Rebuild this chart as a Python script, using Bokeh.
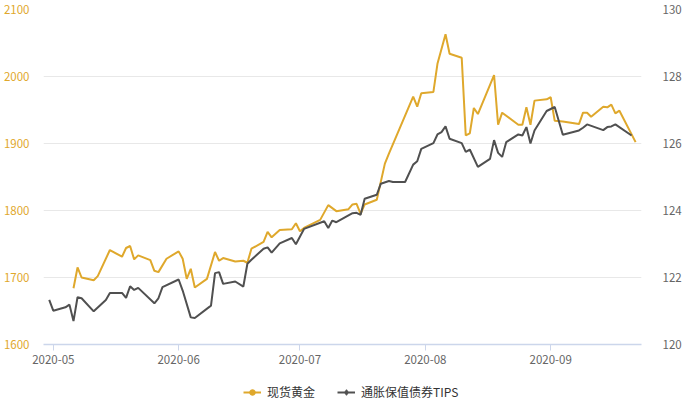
import pandas as pd
from bokeh.plotting import figure
from bokeh.layouts import column
from bokeh.models import (Range1d, LinearAxis, DatetimeAxis, MonthsTicker, DatetimeTickFormatter,
                          FixedTicker, Legend, LegendItem, ColumnDataSource)
from bokeh.embed import file_html
from bokeh.resources import INLINE

gold_dates = ["2020-05-06","2020-05-07","2020-05-08","2020-05-11","2020-05-12","2020-05-15","2020-05-18",
              "2020-05-19","2020-05-20","2020-05-21","2020-05-22","2020-05-25","2020-05-26","2020-05-27",
              "2020-05-29","2020-06-01","2020-06-02","2020-06-03","2020-06-04","2020-06-05","2020-06-08",
              "2020-06-10","2020-06-11","2020-06-12","2020-06-15","2020-06-17","2020-06-18","2020-06-19",
              "2020-06-22","2020-06-23","2020-06-24","2020-06-26","2020-06-29","2020-06-30","2020-07-01",
              "2020-07-02","2020-07-06","2020-07-08","2020-07-10","2020-07-13","2020-07-14","2020-07-15",
              "2020-07-16","2020-07-17","2020-07-20","2020-07-22","2020-07-23","2020-07-29","2020-07-30",
              "2020-07-31","2020-08-03","2020-08-04","2020-08-06","2020-08-07","2020-08-10","2020-08-11",
              "2020-08-12","2020-08-13","2020-08-14","2020-08-18","2020-08-19","2020-08-20","2020-08-24",
              "2020-08-25","2020-08-26","2020-08-27","2020-08-28","2020-08-31","2020-09-01","2020-09-02",
              "2020-09-04","2020-09-08","2020-09-09","2020-09-10","2020-09-11","2020-09-14","2020-09-15",
              "2020-09-16","2020-09-17","2020-09-18","2020-09-22"]
gold_values = [1684, 1715, 1700, 1696, 1702, 1741, 1731,
               1744, 1747, 1727, 1733, 1726, 1710, 1708,
               1728, 1739, 1728, 1698, 1713, 1685, 1698,
               1738, 1725, 1729, 1724, 1725, 1722, 1743,
               1753, 1768, 1760, 1771, 1772, 1781, 1769,
               1774, 1786, 1808, 1799, 1802, 1809, 1810,
               1795, 1809, 1816, 1870, 1885, 1970, 1955,
               1975, 1977, 2019, 2063, 2034, 2028, 1912,
               1915, 1953, 1944, 2002, 1928, 1946, 1928,
               1928, 1954, 1928, 1964, 1966, 1969, 1934,
               1933, 1929, 1946, 1946, 1940, 1955, 1954,
               1958, 1945, 1949, 1902]

tips_dates = ["2020-04-30","2020-05-01","2020-05-04","2020-05-05","2020-05-06","2020-05-07","2020-05-08",
              "2020-05-11","2020-05-14","2020-05-15","2020-05-18","2020-05-19","2020-05-20","2020-05-21",
              "2020-05-22","2020-05-26","2020-05-27","2020-05-28","2020-06-01","2020-06-02","2020-06-04",
              "2020-06-05","2020-06-09","2020-06-10","2020-06-11","2020-06-12","2020-06-15","2020-06-17",
              "2020-06-18","2020-06-19","2020-06-22","2020-06-23","2020-06-24","2020-06-26","2020-06-29",
              "2020-06-30","2020-07-02","2020-07-07","2020-07-08","2020-07-09","2020-07-10","2020-07-14",
              "2020-07-15","2020-07-16","2020-07-17","2020-07-20","2020-07-21","2020-07-23","2020-07-24",
              "2020-07-27","2020-07-29","2020-07-30","2020-07-31","2020-08-03","2020-08-04","2020-08-05",
              "2020-08-06","2020-08-07","2020-08-10","2020-08-11","2020-08-12","2020-08-14","2020-08-17",
              "2020-08-18","2020-08-19","2020-08-20","2020-08-21","2020-08-24","2020-08-25","2020-08-26",
              "2020-08-27","2020-08-28","2020-08-31","2020-09-02","2020-09-04","2020-09-08","2020-09-09",
              "2020-09-10","2020-09-14","2020-09-15","2020-09-16","2020-09-17","2020-09-21"]
tips_values = [121.33, 121.01, 121.11, 121.19, 120.70, 121.41, 121.38,
               120.99, 121.33, 121.54, 121.54, 121.39, 121.74, 121.63,
               121.69, 121.23, 121.38, 121.71, 121.94, 121.61, 120.81,
               120.79, 121.16, 122.13, 122.16, 121.81, 121.88, 121.73,
               122.41, 122.53, 122.86, 122.90, 122.74, 123.02, 123.18,
               122.99, 123.45, 123.68, 123.48, 123.70, 123.65, 123.92,
               123.93, 123.87, 124.35, 124.47, 124.80, 124.88, 124.85,
               124.85, 125.37, 125.47, 125.84, 126.01, 126.27, 126.34,
               126.51, 126.14, 126.01, 125.75, 125.82, 125.30, 125.54,
               126.10, 125.72, 125.60, 126.04, 126.27, 126.24, 126.49,
               126.00, 126.39, 126.97, 127.09, 126.26, 126.39, 126.47,
               126.57, 126.40, 126.49, 126.51, 126.57, 126.24]

series_names = ["现货黄金", "通胀保值债券TIPS"]
left_ticks = [1600, 1700, 1800, 1900, 2000, 2100]
right_ticks = [120, 122, 124, 126, 128, 130]
x_start, x_end = "2020-04-28 14:00", "2020-09-23 11:00"

GOLD = "#dfa82c"
GRAY = "#505050"
FONT = "Noto Sans CJK SC"

gold_src = ColumnDataSource(dict(x=pd.to_datetime(gold_dates), y=gold_values))
tips_src = ColumnDataSource(dict(x=pd.to_datetime(tips_dates), y=tips_values))

p = figure(width=684, height=372, output_backend="svg", toolbar_location=None,
           x_axis_type=None, y_axis_location=None,
           x_range=Range1d(pd.Timestamp(x_start), pd.Timestamp(x_end)),
           y_range=Range1d(left_ticks[0], left_ticks[-1]),
           min_border_left=34, min_border_right=38, min_border_top=9, min_border_bottom=28)
p.extra_y_ranges = {"r": Range1d(right_ticks[0], right_ticks[-1])}
p.outline_line_color = None
p.background_fill_color = "white"

yl = LinearAxis(ticker=FixedTicker(ticks=left_ticks))
yl.axis_line_color = None
yl.major_tick_line_color = None
yl.minor_tick_line_color = None
yl.major_label_text_color = GOLD
yl.major_label_text_font = FONT
yl.major_label_text_font_size = "11.5px"
yl.major_label_standoff = 8
p.add_layout(yl, "left")

yr = LinearAxis(y_range_name="r", ticker=FixedTicker(ticks=right_ticks))
yr.axis_line_color = None
yr.major_tick_line_color = None
yr.minor_tick_line_color = None
yr.major_label_text_color = "#666666"
yr.major_label_text_font = FONT
yr.major_label_text_font_size = "11.5px"
yr.major_label_standoff = 15
p.add_layout(yr, "right")

xa = DatetimeAxis(ticker=MonthsTicker(months=list(range(1, 13))),
                  formatter=DatetimeTickFormatter(months="%Y-%m", days="%Y-%m"))
xa.axis_line_color = "#ccd6eb"
xa.axis_line_width = 1.5
xa.major_tick_line_color = "#ccd6eb"
xa.major_tick_out = 6
xa.major_tick_in = 0
xa.minor_tick_line_color = None
xa.major_label_text_color = "#666666"
xa.major_label_text_font = FONT
xa.major_label_text_font_size = "11.5px"
xa.major_label_standoff = 4
p.add_layout(xa, "below")

p.xgrid.visible = False
p.ygrid.ticker = FixedTicker(ticks=left_ticks)
p.ygrid.grid_line_color = "#e8e8e8"
p.ygrid.grid_line_width = 1

g_line = p.line("x", "y", source=gold_src, line_color=GOLD, line_width=2)
t_line = p.line("x", "y", source=tips_src, line_color=GRAY, line_width=2, y_range_name="r")

# legend strip below the chart (legend swatches use a single off-screen dummy point)
lf = figure(width=684, height=28, output_backend="svg", toolbar_location=None,
            x_range=Range1d(0, 1), y_range=Range1d(0, 1),
            x_axis_type=None, y_axis_type=None, min_border=0)
lf.outline_line_color = None
lf.grid.visible = False
dummy = ColumnDataSource(dict(x=[-5], y=[-5]))
lg_line = lf.line("x", "y", source=dummy, line_color=GOLD, line_width=2)
lg_dot = lf.scatter("x", "y", source=dummy, size=9, fill_color=GOLD, line_color=GOLD)
lt_line = lf.line("x", "y", source=dummy, line_color=GRAY, line_width=2)
lt_dot = lf.scatter("x", "y", source=dummy, size=7, fill_color=GRAY, line_color=GRAY, marker="diamond")

legend = Legend(items=[LegendItem(label=series_names[0], renderers=[lg_line, lg_dot]),
                       LegendItem(label=series_names[1], renderers=[lt_line, lt_dot])],
                orientation="horizontal", location=(200, 0),
                label_text_font=FONT, label_text_font_size="12px", label_text_color="#333333",
                glyph_width=18, glyph_height=14, label_standoff=6, spacing=22,
                padding=2, margin=0, border_line_color=None, background_fill_alpha=0)
lf.add_layout(legend)

layout = column(p, lf, spacing=0)
open("out.html", "w").write(file_html(layout, INLINE))
